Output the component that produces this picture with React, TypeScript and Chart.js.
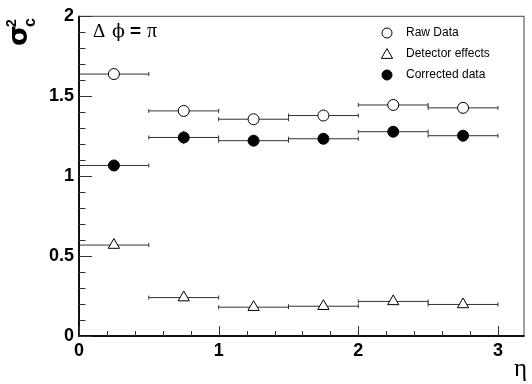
import React, { useEffect, useRef } from "react";
import { Chart, registerables } from "chart.js";

Chart.register(...registerables);

const etaCenters = [0.25, 0.75, 1.25, 1.75, 2.25, 2.75];
const etaHalfWidth = [0.25, 0.25, 0.25, 0.25, 0.25, 0.25];
const rawData = [1.636, 1.406, 1.354, 1.377, 1.443, 1.425];
const rawErr = [0.01, 0.01, 0.01, 0.01, 0.01, 0.01];
const detectorEffects = [0.568, 0.24, 0.18, 0.186, 0.216, 0.197];
const detectorErr = [0.01, 0.01, 0.01, 0.01, 0.01, 0.01];
const correctedData = [1.065, 1.24, 1.22, 1.232, 1.276, 1.251];
const correctedErr = [0.01, 0.042, 0.01, 0.01, 0.01, 0.01];
const xTickValues = [0, 1, 2, 3];
const legendLabels = ["Raw Data", "Detector effects", "Corrected data"];

const pts = (ys: number[], xe: number[], ye: number[]) =>
  etaCenters.map((x, i) => ({ x, y: ys[i], xe: xe[i], ye: ye[i] }));

const errorBars = {
  id: "errorBars",
  beforeDatasetsDraw(chart: any) {
    const { ctx, scales } = chart;
    const xs = scales.x;
    const ys = scales.y;
    ctx.save();
    ctx.strokeStyle = "#333";
    ctx.lineWidth = 1;
    chart.data.datasets.forEach((ds: any) => {
      ds.data.forEach((p: any) => {
        const x0 = xs.getPixelForValue(p.x - p.xe);
        const x1 = xs.getPixelForValue(p.x + p.xe);
        const y = ys.getPixelForValue(p.y);
        const ya = ys.getPixelForValue(p.y - p.ye);
        const yb = ys.getPixelForValue(p.y + p.ye);
        ctx.beginPath();
        ctx.moveTo(x0, y);
        ctx.lineTo(x1, y);
        ctx.moveTo(x0, y - 2);
        ctx.lineTo(x0, y + 2);
        ctx.moveTo(x1, y - 2);
        ctx.lineTo(x1, y + 2);
        ctx.moveTo(xs.getPixelForValue(p.x), ya);
        ctx.lineTo(xs.getPixelForValue(p.x), yb);
        ctx.stroke();
      });
    });
    ctx.restore();
  },
};

const frameAndText = {
  id: "frameAndText",
  afterDraw(chart: any) {
    const { ctx, chartArea: a, scales } = chart;
    const xs = scales.x;
    const ys = scales.y;
    ctx.save();
    // frame
    ctx.strokeStyle = "#444";
    ctx.lineWidth = 1;
    ctx.strokeRect(a.left + 0.5, a.top + 0.5, a.right - a.left - 1, a.bottom - a.top - 1);
    ctx.strokeStyle = "#111";
    ctx.lineWidth = 2;
    ctx.beginPath();
    ctx.moveTo(a.left, a.top);
    ctx.lineTo(a.left, a.bottom);
    ctx.lineTo(a.right, a.bottom);
    ctx.stroke();
    // ticks
    ctx.strokeStyle = "#333";
    ctx.lineWidth = 1;
    ctx.beginPath();
    for (let i = 0; i <= 20; i++) {
      const v = i * 0.1;
      const py = Math.round(ys.getPixelForValue(v)) + 0.5;
      const len = i % 5 === 0 ? 13 : 6.5;
      ctx.moveTo(a.left, py);
      ctx.lineTo(a.left + len, py);
    }
    for (let i = 0; i <= 15; i++) {
      const v = i * 0.2;
      const px = Math.round(xs.getPixelForValue(v)) + 0.5;
      const len = i % 5 === 0 ? 10 : 5;
      ctx.moveTo(px, a.bottom);
      ctx.lineTo(px, a.bottom - len);
    }
    ctx.stroke();
    // annotation
    ctx.fillStyle = "#000";
    ctx.textBaseline = "alphabetic";
    ctx.textAlign = "left";
    ctx.font = "19px 'Liberation Serif'";
    ctx.fillText("Δ", 93, 37);
    ctx.font = "19px 'DejaVu Serif'";
    ctx.fillText("ϕ", 112, 37);
    ctx.font = "bold 19px 'Liberation Sans'";
    ctx.fillText("=", 130, 37);
    ctx.font = "20px 'Liberation Serif'";
    ctx.fillText("π", 147, 37);
    // x title
    ctx.font = "25px 'Liberation Serif'";
    ctx.fillText("η", 514, 376);
    // y title
    ctx.save();
    ctx.translate(27, 46);
    ctx.rotate(-Math.PI / 2);
    ctx.font = "bold 27px 'DejaVu Sans'";
    ctx.fillText("σ", 0, 0);
    ctx.font = "bold 14px 'Liberation Sans'";
    ctx.fillText("2", 19, -11);
    ctx.font = "bold 16px 'Liberation Sans'";
    ctx.fillText("c", 19, 8);
    ctx.restore();
    // legend
    const rows = [33, 54, 75];
    ctx.font = "12px 'Liberation Sans'";
    ctx.textBaseline = "middle";
    legendLabels.forEach((t, i) => {
      const ds = chart.data.datasets[i];
      ctx.save();
      ctx.fillStyle = ds.pointBackgroundColor;
      ctx.strokeStyle = "#000";
      ctx.lineWidth = 1;
      ctx.beginPath();
      const cx = 387;
      const cy = rows[i];
      if (ds.pointStyle === "triangle") {
        const r = 6.5;
        ctx.moveTo(cx, cy - r * 0.75 - 0.5);
        ctx.lineTo(cx + r * 0.866, cy + r * 0.75 - 0.5);
        ctx.lineTo(cx - r * 0.866, cy + r * 0.75 - 0.5);
        ctx.closePath();
      } else {
        ctx.arc(cx, cy, 5, 0, Math.PI * 2);
      }
      ctx.fill();
      ctx.stroke();
      ctx.restore();
      ctx.fillStyle = "#000";
      ctx.fillText(t, 406, cy);
    });
    ctx.restore();
  },
};

export default function App() {
  const ref = useRef<HTMLCanvasElement | null>(null);
  useEffect(() => {
    if (!ref.current) return;
    const chart = new Chart(ref.current, {
      type: "scatter",
      data: {
        datasets: [
          {
            label: legendLabels[0],
            data: pts(rawData, etaHalfWidth, rawErr),
            pointStyle: "circle",
            pointRadius: 5.5,
            pointBackgroundColor: "#fff",
            pointBorderColor: "#000",
            pointBorderWidth: 1,
          },
          {
            label: legendLabels[1],
            data: pts(detectorEffects, etaHalfWidth, detectorErr),
            pointStyle: "triangle",
            pointRadius: 6.5,
            pointBackgroundColor: "#fff",
            pointBorderColor: "#000",
            pointBorderWidth: 1,
          },
          {
            label: legendLabels[2],
            data: pts(correctedData, etaHalfWidth, correctedErr),
            pointStyle: "circle",
            pointRadius: 5.5,
            pointBackgroundColor: "#000",
            pointBorderColor: "#000",
            pointBorderWidth: 1,
          },
        ],
      },
      options: {
        responsive: false,
        animation: false,
        layout: { padding: { top: 13, right: 1, left: 0, bottom: 0 } },
        plugins: { legend: { display: false }, tooltip: { enabled: false } },
        scales: {
          x: {
            type: "linear",
            min: 0,
            max: 3.19,
            afterBuildTicks: (s: any) => {
              s.ticks = xTickValues.map((v) => ({ value: v }));
            },
            afterFit: (s: any) => {
              s.height = 48;
            },
            grid: { display: false, drawTicks: false },
            border: { display: false },
            ticks: {
              padding: 4,
              color: "#000",
              font: { family: "'Liberation Sans'", size: 18, weight: "bold" },
              maxRotation: 0,
              callback: (v: any) => String(v),
            },
          },
          y: {
            type: "linear",
            min: 0,
            max: 2,
            afterFit: (s: any) => {
              s.width = 79;
            },
            grid: { display: false, drawTicks: false },
            border: { display: false },
            ticks: {
              stepSize: 0.5,
              padding: 5,
              color: "#000",
              font: { family: "'Liberation Sans'", size: 18, weight: "bold" },
              callback: (v: any) => String(Math.round(Number(v) * 10) / 10),
            },
          },
        },
      },
      plugins: [errorBars, frameAndText],
    } as any);
    return () => chart.destroy();
  }, []);
  return (
    <canvas
      ref={ref}
      width={532}
      height={384}
      style={{ position: "absolute", left: 0, top: 0, display: "block" }}
    />
  );
}
